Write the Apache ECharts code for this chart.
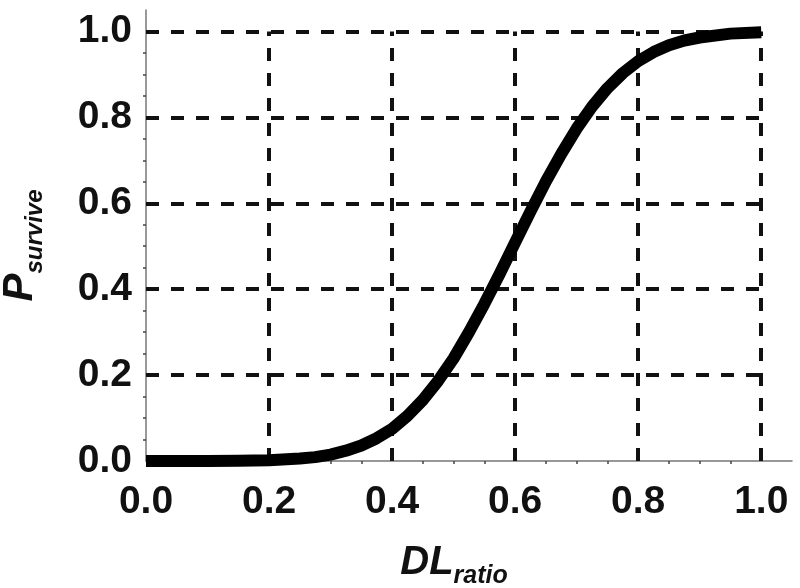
<!DOCTYPE html>
<html>
<head>
<meta charset="utf-8">
<script src="https://cdn.jsdelivr.net/npm/echarts@6/dist/echarts.min.js"></script>
<style>
html,body{margin:0;padding:0;background:#fff;}
#chart{width:800px;height:588px;}
</style>
</head>
<body>
<div id="chart"></div>
<script>
// Data
var dlRatio = [0.0, 0.05, 0.1, 0.15, 0.2, 0.25, 0.275, 0.3, 0.325, 0.35, 0.375, 0.4, 0.425, 0.45, 0.475, 0.5, 0.525, 0.55, 0.575, 0.6, 0.625, 0.65, 0.675, 0.7, 0.725, 0.75, 0.775, 0.8, 0.825, 0.85, 0.875, 0.9, 0.95, 1.0];
var pSurvive = [0.0, 0.0, 0.0002, 0.0008, 0.002, 0.006, 0.009, 0.015, 0.024, 0.036, 0.053, 0.075, 0.105, 0.142, 0.187, 0.239, 0.300, 0.366, 0.436, 0.509, 0.581, 0.651, 0.715, 0.774, 0.825, 0.868, 0.903, 0.931, 0.952, 0.968, 0.979, 0.986, 0.995, 0.998];
var xTicks = [0.2, 0.4, 0.6, 0.8, 1.0];
var yTicks = [0.2, 0.4, 0.6, 0.8, 1.0];

var curve = dlRatio.map(function (x, i) { return [x, pSurvive[i]]; });

var gridLines = [];
xTicks.forEach(function (x) { gridLines.push([{ coord: [x, 0] }, { coord: [x, 1.0] }]); });
yTicks.forEach(function (y) { gridLines.push([{ coord: [0, y] }, { coord: [1.0, y] }]); });

var labelStyle = { fontFamily: 'Liberation Sans', fontWeight: 'bold', fontSize: 39, color: '#111' };
function fmt(v) {
  var r = Math.round(v * 10) / 10;
  if (Math.abs(v - r) > 1e-6 || Math.round(v * 10) % 2 !== 0) return '';
  return r.toFixed(1);
}

var chart = echarts.init(document.getElementById('chart'), null, { renderer: 'canvas' });
chart.setOption({
  animation: false,
  backgroundColor: '#fff',
  grid: { left: 146, right: 8, top: 10, bottom: 127, containLabel: false, outerBoundsMode: 'none' },
  xAxis: {
    type: 'value', min: 0, max: 1.05, interval: 0.2,
    name: '{a|DL}{b|ratio}',
    nameLocation: 'middle', nameGap: 82,
    nameTextStyle: {
      padding: [0, 30, 0, 0],
      rich: {
        a: { fontFamily: 'Liberation Sans', fontWeight: 'bold', fontStyle: 'italic', fontSize: 40, color: '#111', padding: [0, 0, 6, 0] },
        b: { fontFamily: 'Liberation Sans', fontWeight: 'bold', fontStyle: 'italic', fontSize: 25, color: '#111', verticalAlign: 'bottom' }
      }
    },
    axisLine: { show: true, lineStyle: { color: '#777', width: 1.5 } },
    axisTick: { show: false },
    minorTick: { show: true, splitNumber: 4, length: 3, lineStyle: { color: '#444', width: 1.5 } },
    axisLabel: Object.assign({ margin: 22, formatter: fmt, showMaxLabel: false }, labelStyle),
    splitLine: { show: false }
  },
  yAxis: {
    type: 'value', min: 0, max: 1.05, interval: 0.2,
    name: '{a|P}{b|survive}',
    nameLocation: 'middle', nameGap: 99, nameRotate: 90,
    nameTextStyle: {
      padding: [0, 20, 0, 0],
      rich: {
        a: { fontFamily: 'Liberation Sans', fontWeight: 'bold', fontStyle: 'italic', fontSize: 42, color: '#111', padding: [0, 0, 6, 0] },
        b: { fontFamily: 'Liberation Sans', fontWeight: 'bold', fontStyle: 'italic', fontSize: 24, color: '#111', verticalAlign: 'bottom' }
      }
    },
    axisLine: { show: true, lineStyle: { color: '#777', width: 1.5 } },
    axisTick: { show: false },
    minorTick: { show: true, splitNumber: 4, length: 3, lineStyle: { color: '#444', width: 1.5 } },
    axisLabel: Object.assign({ margin: 14, formatter: fmt, showMaxLabel: false }, labelStyle),
    splitLine: { show: false }
  },
  series: [
    {
      type: 'line', data: [], z: 1, silent: true,
      markLine: {
        silent: true, symbol: 'none', animation: false,
        label: { show: false },
        lineStyle: { color: '#111', width: 4, type: [13, 12] },
        data: gridLines
      }
    },
    {
      type: 'line', data: curve, z: 5, showSymbol: false, clip: false,
      smooth: false,
      lineStyle: { color: '#000', width: 12, cap: 'butt', join: 'round' }
    }
  ]
});
</script>
</body>
</html>
